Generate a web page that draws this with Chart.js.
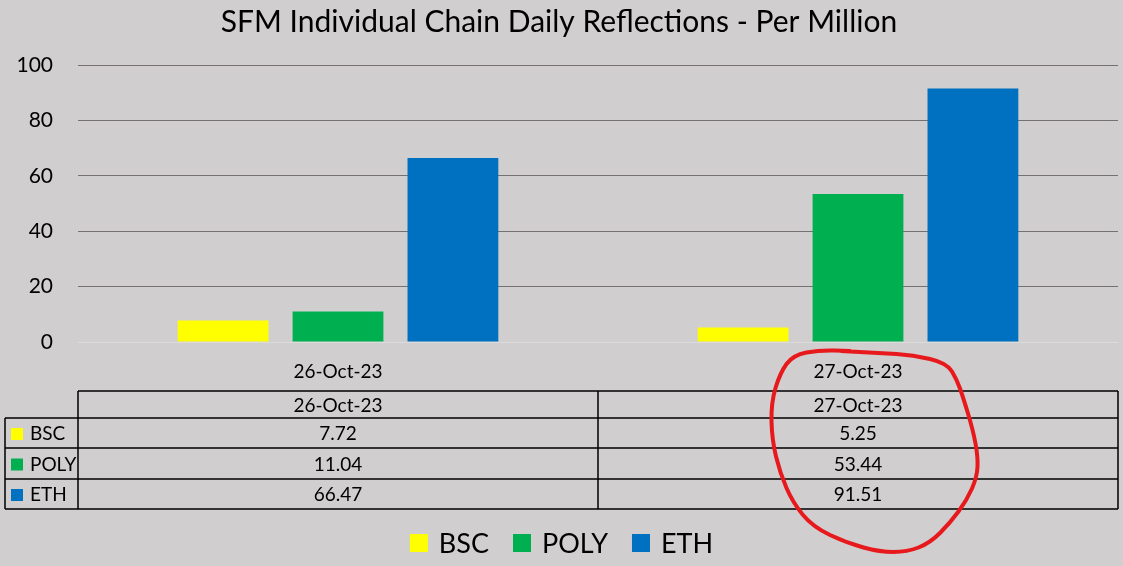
<!DOCTYPE html>
<html lang="en">
<head>
    <meta charset="UTF-8">
    <title>SFM Individual Chain Daily Reflections</title>
    <script src="https://cdn.jsdelivr.net/npm/chart.js"></script>
    <style>
        html, body {
            margin: 0;
            padding: 0;
            background-color: #d0cece;
        }

        .chart-box {
            width: 1123px;
            height: 566px;
        }
    </style>
</head>
<body>

    <div class="chart-box">
        <canvas id="reflectionsChart" width="1123" height="566"></canvas>
    </div>

    <script>
        // Data
        const dates = ['26-Oct-23', '27-Oct-23'];
        const chains = ['BSC', 'POLY', 'ETH'];
        const bscValues = [7.72, 5.25];
        const polyValues = [11.04, 53.44];
        const ethValues = [66.47, 91.51];
        const chainColors = ['#ffff00', '#00b050', '#0070c0'];
        const yTicks = [0, 20, 40, 60, 80, 100];

        const FONT = 'Lato, "Open Sans", sans-serif';

        // Draws the data table under the axis, the legend and the red hand circle
        const tablePlugin = {
            id: 'dataTable',
            afterDraw(chart) {
                const ctx = chart.ctx;
                const x = chart.scales.x;
                const base = chart.chartArea.bottom;
                const datasets = chart.data.datasets;

                const colEdges = [x.left];
                for (let i = 0; i < dates.length - 1; i++) {
                    colEdges.push((x.getPixelForValue(i) + x.getPixelForValue(i + 1)) / 2);
                }
                colEdges.push(x.right);

                const rowEdges = [base + 49, base + 76, base + 106, base + 137, base + 167];
                const leftEdge = 5;

                ctx.save();
                ctx.strokeStyle = '#000000';
                ctx.lineWidth = 1.5;
                ctx.beginPath();
                // horizontal lines
                ctx.moveTo(x.left, rowEdges[0]);
                ctx.lineTo(x.right, rowEdges[0]);
                for (let r = 1; r < rowEdges.length; r++) {
                    ctx.moveTo(leftEdge, rowEdges[r]);
                    ctx.lineTo(x.right, rowEdges[r]);
                }
                // vertical lines
                ctx.moveTo(leftEdge, rowEdges[1]);
                ctx.lineTo(leftEdge, rowEdges[rowEdges.length - 1]);
                colEdges.forEach(cx => {
                    ctx.moveTo(cx, rowEdges[0]);
                    ctx.lineTo(cx, rowEdges[rowEdges.length - 1]);
                });
                ctx.stroke();

                ctx.fillStyle = '#000000';
                ctx.font = '19px ' + FONT;
                ctx.textBaseline = 'middle';
                ctx.textAlign = 'center';

                // header row with dates
                dates.forEach((d, i) => {
                    ctx.fillText(d, x.getPixelForValue(i), (rowEdges[0] + rowEdges[1]) / 2 + 1);
                });

                // one row per chain
                datasets.forEach((ds, r) => {
                    const cy = (rowEdges[r + 1] + rowEdges[r + 2]) / 2 + 1;
                    ctx.fillStyle = ds.backgroundColor;
                    ctx.fillRect(11, cy - 6, 12, 12);
                    ctx.fillStyle = '#000000';
                    ctx.textAlign = 'left';
                    ctx.fillText(ds.label, 30, cy);
                    ctx.textAlign = 'center';
                    ds.data.forEach((v, i) => {
                        ctx.fillText(v.toFixed(2), x.getPixelForValue(i), cy);
                    });
                });

                // legend at the bottom
                ctx.font = '27px ' + FONT;
                const box = 18, gapText = 11, gapItem = 24;
                let total = 0;
                datasets.forEach((ds, i) => {
                    total += box + gapText + ctx.measureText(ds.label).width;
                    if (i < datasets.length - 1) total += gapItem;
                });
                let lx = (chart.width - total) / 2;
                const ly = 543;
                datasets.forEach(ds => {
                    ctx.fillStyle = ds.backgroundColor;
                    ctx.fillRect(lx, ly - box / 2, box, box);
                    lx += box + gapText;
                    ctx.fillStyle = '#000000';
                    ctx.textAlign = 'left';
                    ctx.fillText(ds.label, lx, ly + 1);
                    lx += ctx.measureText(ds.label).width + gapItem;
                });

                // red hand-drawn circle around the second date column
                const c = x.getPixelForValue(1);
                const loop = [
                    [841, 351], [880, 353], [913, 355], [947, 363], [957, 380], [963, 397],
                    [973, 430], [978, 457], [977, 477], [967, 500], [950, 523], [930, 543],
                    [907, 552], [880, 552], [847, 543], [813, 527], [793, 503], [780, 473],
                    [772, 440], [771, 403], [780, 373], [793, 355], [820, 350], [850, 351]
                ].map(p => [p[0] - 858 + c, p[1]]);
                ctx.strokeStyle = '#e8191c';
                ctx.lineWidth = 4;
                ctx.lineJoin = 'round';
                ctx.lineCap = 'round';
                ctx.beginPath();
                ctx.moveTo(loop[0][0], loop[0][1]);
                for (let i = 1; i < loop.length - 1; i++) {
                    const mx = (loop[i][0] + loop[i + 1][0]) / 2;
                    const my = (loop[i][1] + loop[i + 1][1]) / 2;
                    ctx.quadraticCurveTo(loop[i][0], loop[i][1], mx, my);
                }
                ctx.lineTo(loop[loop.length - 1][0], loop[loop.length - 1][1]);
                ctx.stroke();
                ctx.restore();
            }
        };

        const bgPlugin = {
            id: 'bg',
            beforeDraw(chart) {
                const ctx = chart.ctx;
                ctx.save();
                ctx.fillStyle = '#d0cece';
                ctx.fillRect(0, 0, chart.width, chart.height);
                ctx.restore();
            }
        };

        const ctx = document.getElementById('reflectionsChart').getContext('2d');
        const reflectionsChart = new Chart(ctx, {
            type: 'bar',
            data: {
                labels: dates,
                datasets: [
                    { label: chains[0], data: bscValues, backgroundColor: chainColors[0] },
                    { label: chains[1], data: polyValues, backgroundColor: chainColors[1] },
                    { label: chains[2], data: ethValues, backgroundColor: chainColors[2] }
                ]
            },
            options: {
                responsive: false,
                animation: false,
                datasets: {
                    bar: {
                        categoryPercentage: 0.663,
                        barPercentage: 0.79,
                        borderWidth: 0
                    }
                },
                layout: {
                    padding: { left: 0, right: 5, top: 0, bottom: 0 }
                },
                plugins: {
                    legend: { display: false },
                    tooltip: { enabled: false },
                    title: {
                        display: true,
                        text: 'SFM Individual Chain Daily Reflections - Per Million',
                        color: '#000000',
                        font: { family: FONT, size: 30, weight: 'normal' },
                        padding: { top: 4, bottom: 25 }
                    }
                },
                scales: {
                    x: {
                        grid: { display: false, drawTicks: false },
                        border: { display: false },
                        ticks: {
                            color: '#000000',
                            font: { family: FONT, size: 19 },
                            padding: 18
                        },
                        afterFit(scale) {
                            scale.height = 224;
                        }
                    },
                    y: {
                        min: 0,
                        max: 100,
                        afterBuildTicks(scale) {
                            scale.ticks = yTicks.map(v => ({ value: v }));
                        },
                        grid: {
                            drawTicks: false,
                            color: c => c.tick && c.tick.value === 0 ? '#dcdcdc' : '#767171',
                            lineWidth: 1
                        },
                        border: { display: false },
                        ticks: {
                            color: '#000000',
                            font: { family: FONT, size: 21 },
                            padding: 25
                        },
                        afterFit(scale) {
                            scale.width = 78;
                        }
                    }
                }
            },
            plugins: [bgPlugin, tablePlugin]
        });
    </script>

</body>
</html>
